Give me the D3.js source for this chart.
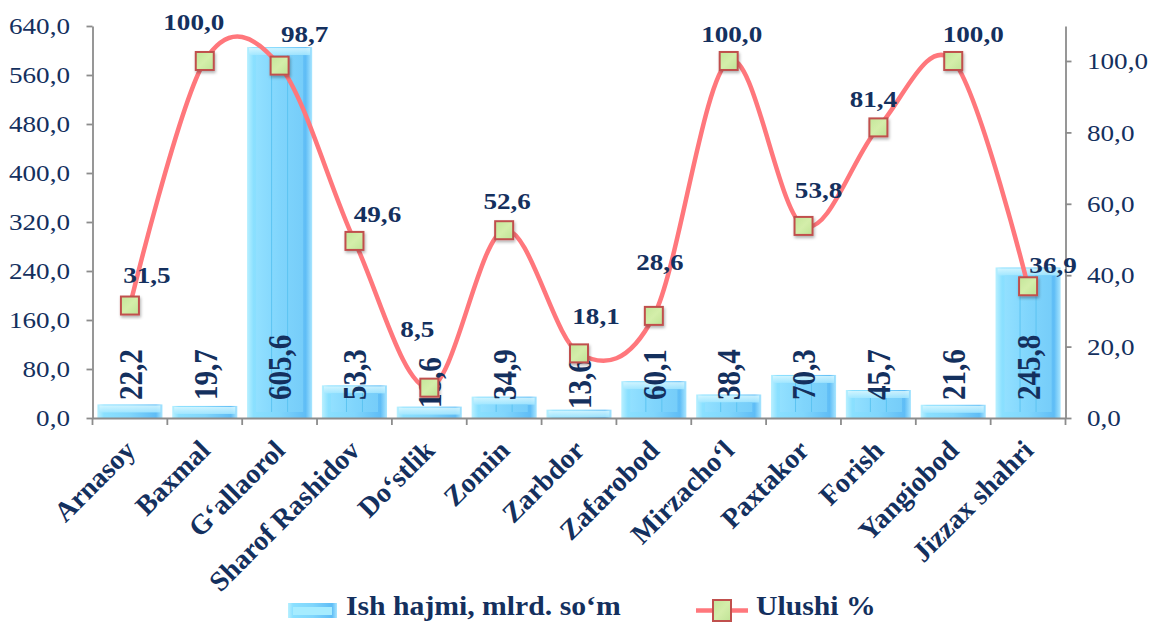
<!DOCTYPE html>
<html>
<head>
<meta charset="utf-8">
<script src="https://cdn.jsdelivr.net/npm/d3@7"></script>
<style>
body { margin: 0; background: #fff; }
svg { display: block; }
text { font-family: "Liberation Serif", "Times New Roman", serif; fill: #14305e; }
</style>
</head>
<body>
<svg id="chart" width="1152" height="623"></svg>
<script>
var districts = ["Arnasoy", "Baxmal", "G‘allaorol", "Sharof Rashidov", "Do‘stlik", "Zomin", "Zarbdor",
                 "Zafarobod", "Mirzacho‘l", "Paxtakor", "Forish", "Yangiobod", "Jizzax shahri"];
var volume = [22.2, 19.7, 605.6, 53.3, 18.6, 34.9, 13.6, 60.1, 38.4, 70.3, 45.7, 21.6, 245.8];
var share  = [31.5, 100.0, 98.7, 49.6, 8.5, 52.6, 18.1, 28.6, 100.0, 53.8, 81.4, 100.0, 36.9];
var leftTicks  = [0, 80, 160, 240, 320, 400, 480, 560, 640];
var rightTicks = [0, 20, 40, 60, 80, 100];
var seriesNames = ["Ish hajmi, mlrd. so‘m", "Ulushi %"];

// labels of the line were moved by hand in the original, keep those nudges
var shareLabelNudge = [[17,-23],[-11,-31],[25,-24],[23,-19],[-12,-51],[3,-21],[17,-29],
                       [6,-46],[3,-19],[15,-28],[-5,-20],[20,-19],[25,-13]];
var volumeLabelNudge = [0,0,0,0,8,0,9,0,0,0,0,0,0];

var margin = {top: 26, left: 92.5, right: 1065.5, bottom: 418};
var stretch = 1.13; // the original picture is a bit wider than it is tall
var svg = d3.select("#chart");
var fmt = d3.formatLocale({decimal: ",", thousands: " ", grouping: [3], currency: ["", ""]}).format(".1f");

var x = d3.scaleBand().domain(districts).range([margin.left, margin.right]).paddingInner(0.13).paddingOuter(0.065);
var xTicks = d3.scaleBand().domain(districts).range([margin.left, margin.right]);
var yLeft  = d3.scaleLinear().domain([0, 640]).range([margin.bottom, margin.top]);
var yRight = d3.scaleLinear().domain([0, 109.8]).range([margin.bottom, margin.top]);

// gradients
var defs = svg.append("defs");
var g1 = defs.append("linearGradient").attr("id", "barGrad").attr("x1", 0).attr("x2", 1).attr("y1", 0).attr("y2", 0);
[[0, "#b9f0ff"], [0.1, "#8ae0ff"], [0.5, "#80d6fc"], [0.9, "#5fbdf6"], [1, "#a9e6ff"]].forEach(function(s){
	g1.append("stop").attr("offset", s[0]).attr("stop-color", s[1]);
});
var g2 = defs.append("linearGradient").attr("id", "barInner").attr("x1", 0).attr("x2", 1).attr("y1", 0).attr("y2", 0);
[[0, "#92e0ff"], [0.5, "#80d5fc"], [1, "#76cdf9"]].forEach(function(s){
	g2.append("stop").attr("offset", s[0]).attr("stop-color", s[1]);
});
var g3 = defs.append("linearGradient").attr("id", "barTop").attr("x1", 0).attr("x2", 0).attr("y1", 0).attr("y2", 1);
[[0, "#dcf8ff"], [1, "#a6e8ff"]].forEach(function(s){
	g3.append("stop").attr("offset", s[0]).attr("stop-color", s[1]);
});
var gm = defs.append("linearGradient").attr("id", "markGrad").attr("x1", 0).attr("x2", 1).attr("y1", 0).attr("y2", 1);
[[0, "#c3e69a"], [0.5, "#d4eeaa"], [1, "#bfe396"]].forEach(function(s){
	gm.append("stop").attr("offset", s[0]).attr("stop-color", s[1]);
});
defs.append("filter").attr("id", "shadow").attr("x", "-30%").attr("y", "-30%").attr("width", "160%").attr("height", "160%")
	.append("feDropShadow").attr("dx", 1).attr("dy", 2).attr("stdDeviation", 1.5).attr("flood-color", "#000").attr("flood-opacity", 0.3);

// bars
var bars = svg.append("g").selectAll("g").data(volume).enter().append("g");
bars.append("rect")
	.attr("x", function(d, i){ return x(districts[i]); })
	.attr("y", function(d){ return yLeft(d); })
	.attr("width", x.bandwidth())
	.attr("height", function(d){ return yLeft(0) - yLeft(d); })
	.attr("fill", "url(#barGrad)");
bars.append("rect")
	.attr("x", function(d, i){ return x(districts[i]) + 2; })
	.attr("y", function(d){ return yLeft(d) + 1; })
	.attr("width", x.bandwidth() - 4)
	.attr("height", function(d){ return Math.min(7, yLeft(0) - yLeft(d) - 2); })
	.attr("fill", "url(#barTop)").attr("opacity", 0.85);
bars.append("rect")
	.attr("x", function(d, i){ return x(districts[i]) + 9; })
	.attr("y", function(d){ return yLeft(d) + 8; })
	.attr("width", x.bandwidth() - 18)
	.attr("height", function(d){ return Math.max(0, yLeft(0) - yLeft(d) - 14); })
	.attr("fill", "url(#barInner)");
[-8, 8].forEach(function(off){
	bars.append("line")
		.attr("x1", function(d, i){ return x(districts[i]) + x.bandwidth() / 2 + off; })
		.attr("x2", function(d, i){ return x(districts[i]) + x.bandwidth() / 2 + off; })
		.attr("y1", function(d){ return yLeft(d) + 8; })
		.attr("y2", function(d){ return Math.max(yLeft(d) + 8, yLeft(0) - 6); })
		.attr("stroke", "#5cc4f2").attr("stroke-width", 1);
});

// axes
var axisL = svg.append("g").attr("transform", "translate(" + margin.left + ",0)")
	.call(d3.axisLeft(yLeft).tickValues(leftTicks).tickSize(6).tickSizeOuter(0).tickFormat(fmt));
var axisR = svg.append("g").attr("transform", "translate(" + margin.right + ",0)")
	.call(d3.axisRight(yRight).tickValues(rightTicks).tickSize(6).tickSizeOuter(0).tickFormat(fmt));
var axisB = svg.append("g").attr("transform", "translate(0," + margin.bottom + ")")
	.call(d3.axisBottom(xTicks).tickSize(7).tickSizeOuter(0).tickFormat(""));
axisB.selectAll(".tick").remove();
axisB.selectAll(".b").data(districts.concat(["end"])).enter().append("line")
	.attr("x1", function(d, i){ return margin.left + i * xTicks.step(); })
	.attr("x2", function(d, i){ return margin.left + i * xTicks.step(); })
	.attr("y1", 0).attr("y2", 7);
[axisL, axisR, axisB].forEach(function(a){
	a.selectAll("path, line").attr("stroke", "#8c8c8c").attr("stroke-width", 1.8);
	a.selectAll("text").attr("font-size", 24).attr("fill", "#14305e")
		.attr("transform", "scale(" + stretch + ",1)")
		.style("font-family", "'Liberation Serif','Times New Roman',serif");
});
axisL.selectAll("text").attr("x", -22.5 / stretch);
axisR.selectAll("text").attr("x", 21.5 / stretch);

// category labels
svg.append("g").selectAll("text").data(districts).enter().append("text")
	.attr("transform", function(d){ return "translate(" + (xTicks(d) + xTicks.bandwidth() / 2 + 7) + ",452) rotate(-45)"; })
	.attr("text-anchor", "end")
	.attr("font-size", 28).attr("font-weight", "bold").attr("fill", "#17375e")
	.text(function(d){ return d; });

// line
var line = d3.line()
	.x(function(d, i){ return xTicks(districts[i]) + xTicks.bandwidth() / 2; })
	.y(function(d){ return yRight(d); })
	.curve(d3.curveCatmullRom.alpha(0));
svg.append("path").datum(share).attr("d", line)
	.attr("fill", "none").attr("stroke", "#ff777c").attr("stroke-width", 4.5);

// volume labels inside the bars
svg.append("g").selectAll("text").data(volume).enter().append("text")
	.attr("transform", function(d, i){
		return "translate(" + (xTicks(districts[i]) + xTicks.bandwidth() / 2) + "," + (400 + volumeLabelNudge[i]) +
			") rotate(-90) scale(1," + stretch + ")";
	})
	.attr("dy", "0.36em")
	.attr("font-size", 29).attr("font-weight", "bold").attr("fill", "#17375e")
	.text(function(d){ return fmt(d); });

// markers
svg.append("g").selectAll("rect").data(share).enter().append("rect")
	.attr("x", function(d, i){ return xTicks(districts[i]) + xTicks.bandwidth() / 2 - 9; })
	.attr("y", function(d){ return yRight(d) - 9; })
	.attr("width", 18).attr("height", 18)
	.attr("fill", "url(#markGrad)").attr("stroke", "#c0504d").attr("stroke-width", 2)
	.attr("filter", "url(#shadow)");

// share labels
svg.append("g").selectAll("text").data(share).enter().append("text")
	.attr("transform", function(d, i){
		return "translate(" + (xTicks(districts[i]) + xTicks.bandwidth() / 2 + shareLabelNudge[i][0]) + "," +
			(yRight(d) + shareLabelNudge[i][1]) + ") scale(" + stretch + ",1)";
	})
	.attr("text-anchor", "middle")
	.attr("font-size", 24).attr("font-weight", "bold").attr("fill", "#0f2a5e")
	.text(function(d){ return fmt(d); });

// legend
var leg = svg.append("g");
leg.append("rect").attr("x", 288).attr("y", 603).attr("width", 49).attr("height", 15).attr("fill", "url(#barGrad)");
leg.append("rect").attr("x", 293).attr("y", 607).attr("width", 39).attr("height", 8).attr("fill", "#a6ecff");
leg.append("text").attr("transform", "translate(346,615) scale(1.1,1)")
	.attr("font-size", 27).attr("font-weight", "bold").attr("fill", "#17375e")
	.text(seriesNames[0]);
leg.append("line").attr("x1", 696).attr("x2", 748).attr("y1", 610.5).attr("y2", 610.5)
	.attr("stroke", "#ff777c").attr("stroke-width", 4.5);
leg.append("rect").attr("x", 713).attr("y", 600).attr("width", 18).attr("height", 21)
	.attr("fill", "url(#markGrad)").attr("stroke", "#c0504d").attr("stroke-width", 2);
leg.append("text").attr("transform", "translate(756,615) scale(1.1,1)")
	.attr("font-size", 27).attr("font-weight", "bold").attr("fill", "#17375e")
	.text(seriesNames[1]);
</script>
</body>
</html>
